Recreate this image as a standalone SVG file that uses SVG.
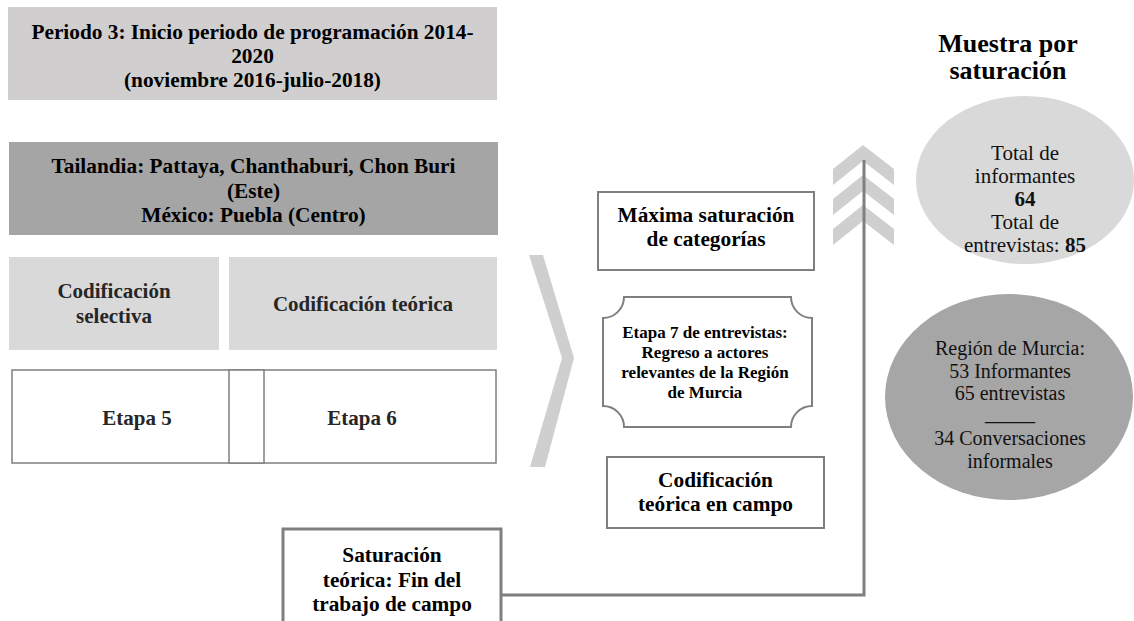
<svg xmlns="http://www.w3.org/2000/svg" width="1134" height="621" viewBox="0 0 1134 621" font-family="'Liberation Serif', 'DejaVu Serif', Times, serif">
<style>
text{font-family:'Liberation Serif','DejaVu Serif',Times,serif;text-anchor:middle;}
.b{font-weight:bold;font-size:21.3px;fill:#000;}
.bd{font-weight:bold;font-size:21px;fill:#262626;}
.s{font-weight:bold;font-size:17px;fill:#000;}
.r{font-size:21px;fill:#111;}
.r2{font-size:20px;fill:#111;}
.h{font-weight:bold;font-size:26px;fill:#000;}
.box{fill:#fff;stroke:#7f7f7f;stroke-width:2;}
.chev{fill:#cfcfcf;}
.conn{fill:none;stroke:#7f7f7f;stroke-width:3;}
</style>
<defs>
<clipPath id="clipBottom"><rect x="0" y="0" width="1134" height="618"/></clipPath>
</defs>

<g id="periodo">
<rect x="8" y="7" width="489" height="93" fill="#d0cece"/>
<text class="b" x="252.5" y="39">Periodo 3: Inicio periodo de programación 2014-</text>
<text class="b" x="252.5" y="63">2020</text>
<text class="b" x="252.5" y="87">(noviembre 2016-julio-2018)</text>
</g>

<g id="paises">
<rect x="9" y="142" width="489" height="93" fill="#a5a5a5"/>
<text class="b" x="253.5" y="173">Tailandia: Pattaya, Chanthaburi, Chon Buri</text>
<text class="b" x="253.5" y="197.5">(Este)</text>
<text class="b" x="253.5" y="222">México: Puebla (Centro)</text>
</g>

<g id="cod-selectiva">
<rect x="9" y="257" width="210" height="93" fill="#d9d9d9"/>
<text class="bd" x="114" y="298">Codificación</text>
<text class="bd" x="114" y="323">selectiva</text>
</g>

<g id="cod-teorica">
<rect x="229" y="257" width="268" height="93" fill="#d9d9d9"/>
<text class="bd" x="363" y="311">Codificación teórica</text>
</g>

<g id="etapas">
<rect x="12" y="370" width="484" height="93" fill="#fff" stroke="#7f7f7f" stroke-width="1.5"/>
<rect x="229" y="370" width="35" height="93" fill="#fff" stroke="#7f7f7f" stroke-width="1.5"/>
<text class="bd" x="137" y="425">Etapa 5</text>
<text class="bd" x="362" y="425">Etapa 6</text>
</g>

<g id="chevron-grande">
<polygon class="chev" points="529,255 543,255 574,358 545,467 530,467 562,358"/>
</g>

<g id="maxima">
<rect class="box" x="598" y="192" width="216" height="78"/>
<text class="b" x="706" y="222">Máxima saturación</text>
<text class="b" x="706" y="246">de categorías</text>
</g>

<g id="etapa7">
<path class="box" d="M624 297 H791 A21 21 0 0 0 812 318 V406 A21 21 0 0 0 791 427 H624 A21 21 0 0 0 603 406 V318 A21 21 0 0 0 624 297 Z"/>
<text class="s" x="705" y="338">Etapa 7 de entrevistas:</text>
<text class="s" x="705" y="358">Regreso a actores</text>
<text class="s" x="705" y="378">relevantes de la Región</text>
<text class="s" x="705" y="398">de Murcia</text>
</g>

<g id="cod-campo">
<rect class="box" x="607" y="457" width="217" height="71"/>
<text class="b" x="715.5" y="487">Codificación</text>
<text class="b" x="715.5" y="511">teórica en campo</text>
</g>

<g id="saturacion">
<rect x="283" y="529" width="218" height="110" fill="#fff" stroke="#7f7f7f" stroke-width="3"/>
<g clip-path="url(#clipBottom)">
<text class="b" x="392" y="562">Saturación</text>
<text class="b" x="392" y="587">teórica: Fin del</text>
<text class="b" x="392" y="611">trabajo de campo</text>
</g>
</g>

<g id="flechas-arriba">
<polygon class="chev" points="863,145 894,169 894,185 863,161 833,185 833,169"/>
<polygon class="chev" points="863,175 894,199 894,215 863,191 833,215 833,199"/>
<polygon class="chev" points="863,205 894,229 894,245 863,221 833,245 833,229"/>
</g>

<g id="connectors">
<polyline class="conn" points="501,595 864,595 864,160"/>
</g>

<g id="titulo-muestra">
<text class="h" x="1008" y="52">Muestra por</text>
<text class="h" x="1008" y="79">saturación</text>
</g>

<g id="total">
<ellipse cx="1025" cy="180" rx="109" ry="84" fill="#d9d9d9"/>
<text class="r" x="1025" y="160">Total de</text>
<text class="r" x="1025" y="183">informantes</text>
<text class="r" x="1025" y="206" font-weight="bold">64</text>
<text class="r" x="1025" y="229">Total de</text>
<text class="r" x="1025" y="252">entrevistas: <tspan font-weight="bold">85</tspan></text>
</g>

<g id="murcia">
<ellipse cx="1009" cy="397" rx="124" ry="103" fill="#a6a6a6"/>
<text class="r2" x="1010" y="355">Región de Murcia:</text>
<text class="r2" x="1010" y="377.5">53 Informantes</text>
<text class="r2" x="1010" y="400">65 entrevistas</text>
<text class="r2" x="1010" y="420">_____</text>
<text class="r2" x="1010" y="445">34 Conversaciones</text>
<text class="r2" x="1010" y="467.5">informales</text>
</g>
</svg>
